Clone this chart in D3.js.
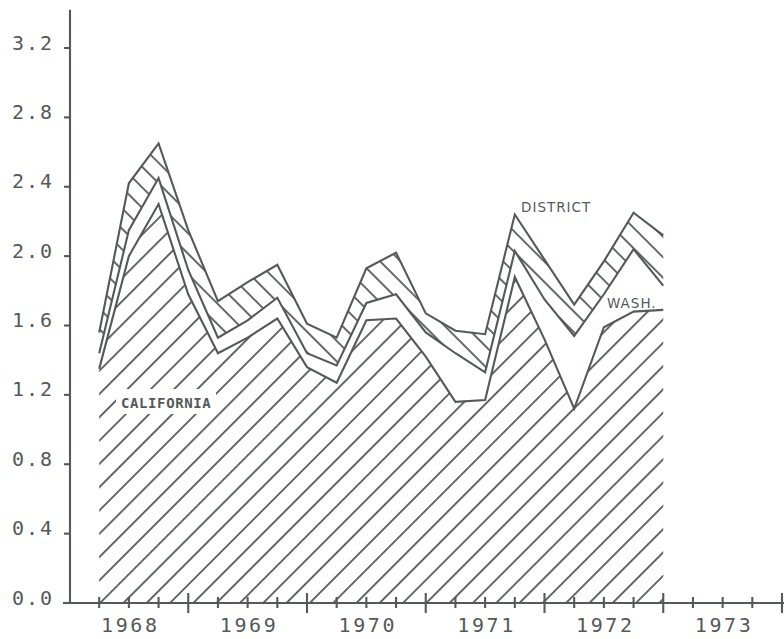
<!DOCTYPE html>
<html><head><meta charset="utf-8">
<script src="https://cdn.jsdelivr.net/npm/d3@7"></script>
<style>body{margin:0;background:#fff;} svg{display:block}</style>
</head><body>
<svg id="c" width="784" height="639"></svg>
<script>
// quarterly observations (decimal year)
const periods = [1968.25,1968.5,1968.75,1969.0,1969.25,1969.5,1969.75,1970.0,1970.25,1970.5,
                 1970.75,1971.0,1971.25,1971.5,1971.75,1972.0,1972.25,1972.5,1972.75,1973.0];
// layer values (stacked)
const california = [1.35,2.00,2.30,1.78,1.44,1.53,1.64,1.36,1.27,1.63,1.64,1.42,1.16,1.17,1.88,1.52,1.12,1.59,1.68,1.69];
const washington = [0.09,0.15,0.15,0.14,0.09,0.10,0.12,0.08,0.10,0.10,0.14,0.14,0.28,0.16,0.15,0.23,0.42,0.19,0.36,0.14];
const district   = [0.12,0.27,0.20,0.23,0.21,0.22,0.19,0.17,0.16,0.20,0.24,0.11,0.13,0.22,0.21,0.23,0.18,0.19,0.21,0.29];
const yTickValues = [0.0,0.4,0.8,1.2,1.6,2.0,2.4,2.8,3.2];
const yTickLabels = ["0.0","0.4","0.8","1.2","1.6","2.0","2.4","2.8","3.2"];
const yearLabels = [1968,1969,1970,1971,1972,1973];
const seriesLabels = ["CALIFORNIA","WASH.","DISTRICT"];

const ink = "#535a58";
const svg = d3.select("#c");
const x = d3.scaleLinear().domain([1968,1974]).range([69.5,782]);
const y = d3.scaleLinear().domain([0,3.2]).range([603,48]);

const rows = periods.map((p,i)=>({p, california:california[i], washington:washington[i], district:district[i]}));
const keys = ["california","washington","district"];
const stacked = d3.stack().keys(keys)(rows);

// hatch patterns
const defs = svg.append("defs");
function hatch(id, angle, perp, phase){
  const pat = defs.append("pattern").attr("id",id).attr("patternUnits","userSpaceOnUse")
    .attr("width",10).attr("height",perp).attr("patternTransform",`rotate(${angle})`);
  pat.append("rect").attr("width",10).attr("height",perp).attr("fill","#fff");
  pat.append("line").attr("x1",-1).attr("x2",11).attr("y1",phase).attr("y2",phase)
    .attr("stroke",ink).attr("stroke-width",1.8);
}
const pC = 23.3/Math.SQRT2;
hatch("hC", -45, pC, (703/Math.SQRT2) % pC);
const pD = 20.5/Math.SQRT2;
hatch("hD", 45, pD, 3);

const area = d3.area().x(d=>x(d.data.p)).y0(d=>y(d[0])).y1(d=>y(d[1]));
const fills = ["url(#hC)","#fff","url(#hD)"];
svg.append("g").selectAll("path").data(stacked).join("path")
  .attr("d",area).attr("fill",(d,i)=>fills[i]).attr("stroke","none");

// top outlines
const line = d3.line().x(d=>x(d.data.p)).y(d=>y(d[1]));
svg.append("g").selectAll("path").data(stacked).join("path")
  .attr("d",line).attr("fill","none").attr("stroke",ink).attr("stroke-width",2.1).attr("stroke-linejoin","miter");

// axes
const ax = svg.append("g").attr("stroke",ink).attr("stroke-width",2.1);
ax.append("line").attr("x1",70).attr("x2",70).attr("y1",y(0)+1).attr("y2",y(3.42));
ax.append("line").attr("x1",63).attr("x2",784).attr("y1",y(0)).attr("y2",y(0));
ax.selectAll(".yt").data(yTickValues).join("line")
  .attr("x1",64).attr("x2",70).attr("y1",d=>y(d)).attr("y2",d=>y(d));
const qTicks = d3.range(1,25).map(k=>1968+k*0.25);
ax.selectAll(".xt").data(qTicks).join("line")
  .attr("x1",d=>x(d)).attr("x2",d=>x(d))
  .attr("y1",d=>y(0)-(Number.isInteger(d)?10:6))
  .attr("y2",d=>y(0)+(Number.isInteger(d)?10:5));

const fnt = "'DejaVu Sans Mono', monospace";
svg.append("g").selectAll("text").data(yTickValues).join("text")
  .attr("x",54).attr("y",d=>y(d)+1.5).attr("text-anchor","end")
  .attr("font-family",fnt).attr("font-size",20).attr("letter-spacing",2).attr("fill",ink)
  .text((d,i)=>yTickLabels[i]);
svg.append("g").selectAll("text").data(yearLabels).join("text")
  .attr("x",d=>x(d+0.5)+1.5).attr("y",632).attr("text-anchor","middle")
  .attr("font-family",fnt).attr("font-size",20).attr("letter-spacing",2.6).attr("fill",ink)
  .text(d=>d);

// series labels
svg.append("rect").attr("x",116).attr("y",389).attr("width",100).attr("height",25).attr("fill","#fff");
svg.append("text").attr("x",121).attr("y",408).attr("font-family",fnt).attr("font-weight","bold")
  .attr("font-size",14).attr("letter-spacing",0.6).attr("fill",ink).text(seriesLabels[0]);
svg.append("text").attr("x",607).attr("y",308).attr("font-family","'DejaVu Sans', sans-serif")
  .attr("font-size",13.5).attr("letter-spacing",1).attr("fill",ink).text(seriesLabels[1]);
svg.append("text").attr("x",521).attr("y",212).attr("font-family","'DejaVu Sans', sans-serif")
  .attr("font-size",13.5).attr("letter-spacing",1).attr("fill",ink).text(seriesLabels[2]);
</script>
</body></html>
